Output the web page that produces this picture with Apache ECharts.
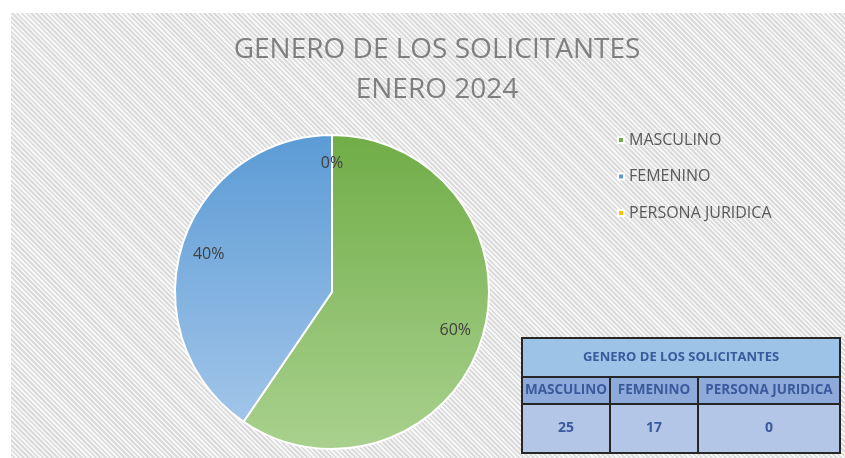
<!DOCTYPE html>
<html>
<head>
<meta charset="utf-8">
<script src="https://cdn.jsdelivr.net/npm/echarts@6/dist/echarts.min.js"></script>
<style>
html,body{margin:0;padding:0;background:#fff;}
#wrap{position:relative;width:845px;height:458px;background:#fff;overflow:hidden;}
#bg{position:absolute;left:11px;top:13px;right:0;bottom:0;
background:repeating-linear-gradient(45deg,#f6f6f6 0px,#f6f6f6 1.6px,#dcdcdc 1.6px,#dcdcdc 3.4px);}
#chart{position:absolute;left:0;top:0;width:845px;height:458px;}
</style>
</head>
<body>
<div id="wrap"><div id="bg"></div><div id="chart"></div></div>
<script>
var titleLines = ['GENERO DE LOS SOLICITANTES', 'ENERO 2024'];
var categories = ['MASCULINO', 'FEMENINO', 'PERSONA JURIDICA'];
var values = [25, 17, 0];
var tableTitle = 'GENERO DE LOS SOLICITANTES';

var topColors = ['#70ad47', '#5b9bd5', '#ffc000'];
var bottomColors = ['#a9d18e', '#a2c5e9', '#ffd966'];
var legendColors = ['#70ad47', '#5b9bd5', '#ffc000'];

var chart = echarts.init(document.getElementById('chart'), null, {renderer: 'canvas'});

var mainData = categories.map(function (c, i) {
  return {
    name: c, value: values[i],
    itemStyle: {
      color: new echarts.graphic.LinearGradient(0, 0, 0, 1, [
        {offset: 0, color: topColors[i]}, {offset: 1, color: bottomColors[i]}
      ])
    }
  };
});
var ghostData = categories.map(function (c, i) {
  return {name: c, value: values[i]};
});

// table graphic
var tx = 522, ty = 338;
var colW = [88, 88, 142];
var rowH = [39, 27, 49];
var totalW = colW.reduce(function (a, b) { return a + b; }, 0);
var border = '#262626';
var txtColor = '#3a5a9c';
var g = [];
g.push({type: 'rect', shape: {x: tx, y: ty, width: totalW, height: rowH[0]},
  style: {fill: '#9dc3e6', stroke: border, lineWidth: 2}});
g.push({type: 'text', x: tx + totalW / 2, y: ty + rowH[0] / 2,
  style: {text: tableTitle, fill: txtColor, font: 'bold 13px "Open Sans", sans-serif', align: 'center', verticalAlign: 'middle'}});
var cx = tx;
for (var i = 0; i < categories.length; i++) {
  g.push({type: 'rect', shape: {x: cx, y: ty + rowH[0], width: colW[i], height: rowH[1]},
    style: {fill: '#8eaadb', stroke: border, lineWidth: 2}});
  g.push({type: 'rect', shape: {x: cx, y: ty + rowH[0] + rowH[1], width: colW[i], height: rowH[2]},
    style: {fill: '#b4c6e7', stroke: border, lineWidth: 2}});
  g.push({type: 'text', x: cx + colW[i] / 2, y: ty + rowH[0] + rowH[1] + rowH[2] / 2,
    style: {text: String(values[i]), fill: txtColor, font: 'bold 14px "Open Sans", sans-serif', align: 'center', verticalAlign: 'middle'}});
  cx += colW[i];
}
cx = tx;
for (var j = 0; j < categories.length; j++) {
  g.push({type: 'text', x: cx + colW[j] / 2, y: ty + rowH[0] + rowH[1] / 2, z: 10,
    style: {text: categories[j], fill: txtColor, font: 'bold 13.5px "Open Sans", sans-serif', align: 'center', verticalAlign: 'middle'}});
  cx += colW[j];
}

chart.setOption({
  backgroundColor: 'transparent',
  animation: false,
  title: {
    text: titleLines.join('\n'),
    left: 432, top: 25, textAlign: 'center',
    textStyle: {color: '#7f7f7f', fontSize: 28, fontWeight: 500, fontFamily: '"Open Sans", sans-serif', lineHeight: 40}
  },
  legend: {
    orient: 'vertical', left: 612, top: 127, itemGap: 20.5,
    itemWidth: 6, itemHeight: 6, icon: 'rect',
    textStyle: {color: '#595959', fontSize: 16, fontFamily: '"Open Sans", sans-serif'},
    data: categories.map(function (c, i) { return {name: c, itemStyle: {color: legendColors[i]}}; })
  },
  graphic: g,
  series: [
    {
      type: 'pie', name: 'main', center: [332, 292], radius: 157,
      startAngle: 90, clockwise: true, silent: true,
      label: {show: false}, labelLine: {show: false},
      itemStyle: {borderColor: '#ffffff', borderWidth: 2},
      data: mainData
    },
    {
      type: 'pie', name: 'labels', center: [332, 292], radius: 252,
      startAngle: 90, clockwise: true, silent: true,
      itemStyle: {color: 'rgba(0,0,0,0)'},
      label: {show: true, position: 'inside', formatter: function (p) { return Math.round(p.percent) + '%'; },
        color: '#404040', fontSize: 16, fontFamily: '"Open Sans", sans-serif'},
      labelLine: {show: false},
      data: ghostData
    }
  ]
});
</script>
</body>
</html>
